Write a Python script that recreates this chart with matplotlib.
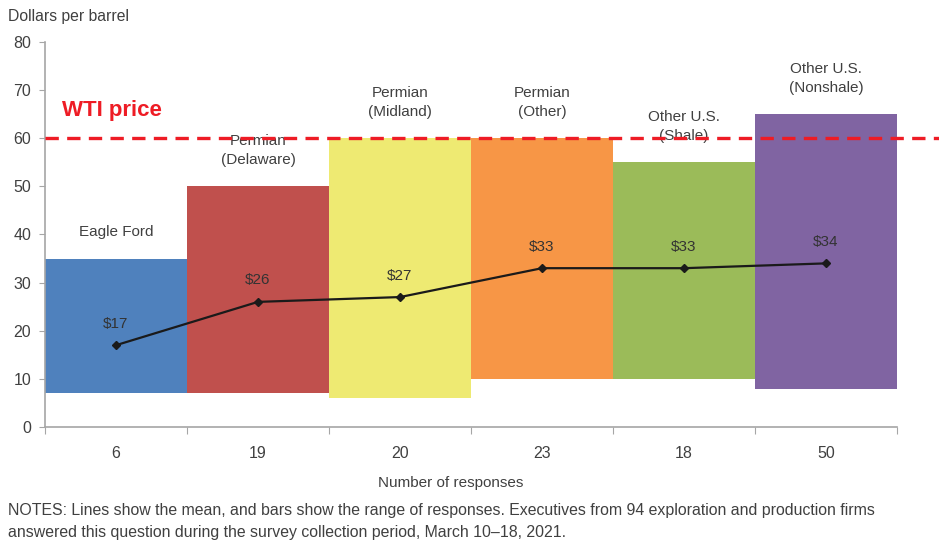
import matplotlib.pyplot as plt
import matplotlib.transforms as mtransforms
import numpy as np

plt.rcParams['font.family'] = ['Liberation Sans', 'DejaVu Sans']

# range of responses and mean per region
regions = ["Eagle Ford", "Permian\n(Delaware)", "Permian\n(Midland)",
           "Permian\n(Other)", "Other U.S.\n(Shale)", "Other U.S.\n(Nonshale)"]
responses = ["6", "19", "20", "23", "18", "50"]
range_low = [7, 7, 6, 10, 10, 8]
range_high = [35, 50, 60, 60, 55, 65]
means = [17, 26, 27, 33, 33, 34]
wti_price = 60

colors = ["#4F81BD", "#C0504D", "#EEEA72", "#F79646", "#9BBB59", "#8064A2"]
text_gray = "#404040"
axis_gray = "#A6A6A6"

fig = plt.figure(figsize=(9.39, 5.43), dpi=100)
ax = fig.add_axes([0.0479, 0.2136, 0.9074, 0.7091])

x = np.arange(len(regions))
low = np.array(range_low)
high = np.array(range_high)
ax.bar(x, high - low, bottom=low, width=1.0, color=colors, zorder=2)

for xi, top, name in zip(x, range_high, regions):
    ax.text(xi, top + 4.0, name, ha="center", va="bottom", fontsize=11,
            color=text_gray, multialignment="center", linespacing=1.45,
            zorder=3)

ax.plot(x, means, color="#1a1a1a", linewidth=1.6, marker="D",
        markersize=4.5, zorder=4)
for xi, m in zip(x, means):
    ax.text(xi, m + 3.0, f"${m}", ha="center", va="bottom", fontsize=11,
            color="#333333", zorder=5)

# WTI reference line runs past the plot edge
trans = mtransforms.blended_transform_factory(ax.transAxes, ax.transData)
ax.plot([0, 1.05], [wti_price, wti_price], transform=trans, color="#EE1C25",
        linestyle=(0, (4, 2.5)), linewidth=2.4, clip_on=False, zorder=6)
ax.text(-0.5 + 0.12, 63.5, "WTI price", color="#EE1C25", fontsize=16,
        fontweight="bold", ha="left", va="bottom", zorder=6)

ax.set_xlim(-0.5, len(regions) - 0.5)
ax.set_ylim(0, 80)
ax.set_yticks(np.arange(0, 81, 10))
ax.set_xticks(np.arange(-0.5, len(regions), 1.0))
ax.set_xticklabels([])
ax.set_xticks(x, minor=True)
ax.set_xticklabels(responses, minor=True)
ax.tick_params(axis="x", which="minor", length=0, pad=14, labelsize=11.5,
               labelcolor=text_gray)
ax.tick_params(axis="x", which="major", length=5, color=axis_gray, direction="out")
ax.tick_params(axis="y", length=4, color=axis_gray, labelsize=11.5,
               labelcolor=text_gray, pad=6)

for side in ["top", "right"]:
    ax.spines[side].set_visible(False)
for side in ["left", "bottom"]:
    ax.spines[side].set_color(axis_gray)
    ax.spines[side].set_linewidth(1.2)

fig.text(451 / 939, 1 - 483 / 543, "Number of responses", ha="center",
         va="center", fontsize=11, color=text_gray)
fig.text(8 / 939, 1 - 16 / 543, "Dollars per barrel", ha="left",
         va="center", fontsize=11.3, color=text_gray)
fig.text(8 / 939, 1 - 510 / 543,
         "NOTES: Lines show the mean, and bars show the range of responses. "
         "Executives from 94 exploration and production firms",
         ha="left", va="center", fontsize=11.4, color=text_gray)
fig.text(8 / 939, 1 - 532 / 543,
         "answered this question during the survey collection period, March 10\u201318, 2021.",
         ha="left", va="center", fontsize=11.4, color=text_gray)

fig.savefig("out.png", dpi=100)
